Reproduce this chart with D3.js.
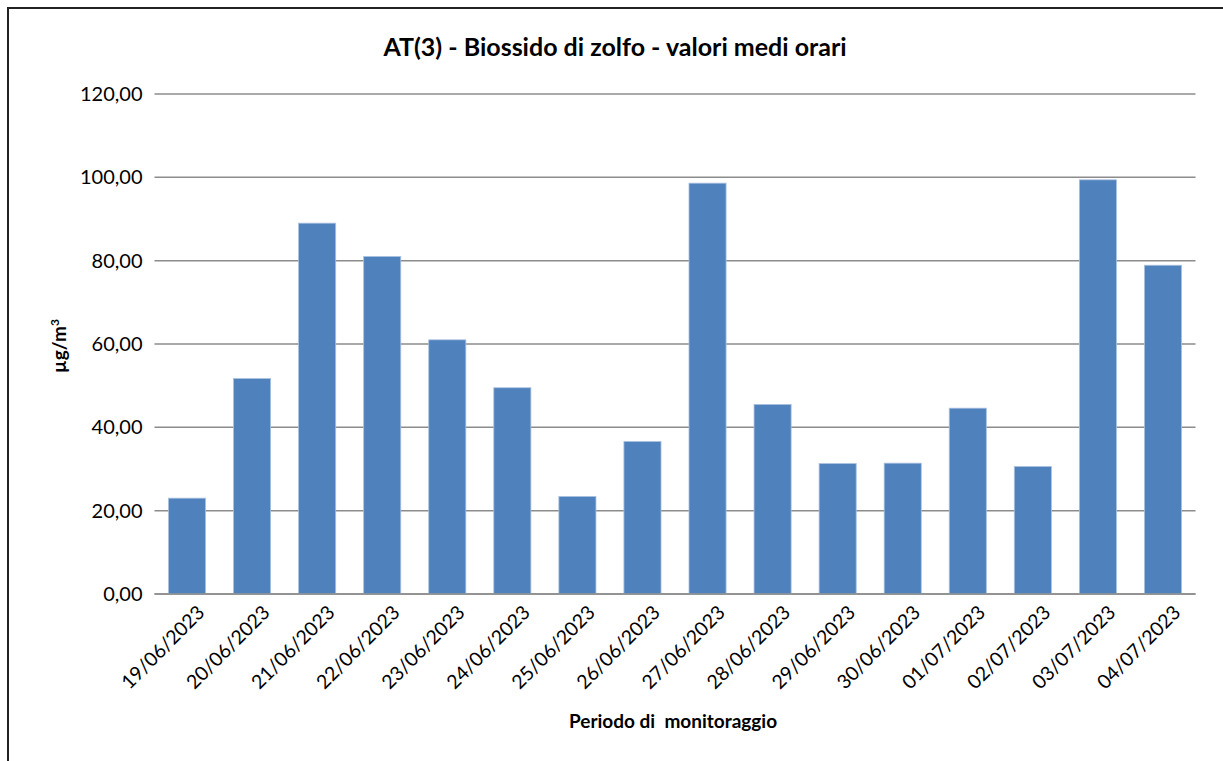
<!DOCTYPE html>
<html lang="it">
<head>
<meta charset="UTF-8">
<title>AT(3) - Biossido di zolfo</title>
<script src="https://d3js.org/d3.v7.min.js"></script>
<style>
  body { margin: 0; background: #fff; }
  text { font-family: Lato, "Open Sans", sans-serif; fill: #000; }
</style>
</head>
<body>
<div id="chart"></div>
<script>
// data
const dates = ["19/06/2023","20/06/2023","21/06/2023","22/06/2023","23/06/2023","24/06/2023",
               "25/06/2023","26/06/2023","27/06/2023","28/06/2023","29/06/2023","30/06/2023",
               "01/07/2023","02/07/2023","03/07/2023","04/07/2023"];
const values = [23.0, 51.7, 89.0, 81.0, 61.0, 49.5, 23.4, 36.6, 98.6, 45.5, 31.3, 31.4, 44.6, 30.6, 99.4, 78.9];
const yTicks = [0, 20, 40, 60, 80, 100, 120];

const W = 1223, H = 761;
const margin = {top: 94, right: 27.5, bottom: 167, left: 154.5};
const width = W - margin.left - margin.right,
      height = H - margin.top - margin.bottom;

const svg = d3.select("#chart").append("svg")
    .attr("width", W).attr("height", H);

// outer frame
svg.append("rect")
    .attr("x", 8).attr("y", 8)
    .attr("width", W).attr("height", H)
    .attr("fill", "none").attr("stroke", "#222").attr("stroke-width", 2);

const g = svg.append("g").attr("transform", `translate(${margin.left},${margin.top})`);

const x = d3.scaleBand().domain(dates).range([0, width]).paddingInner(0.43).paddingOuter(0.215);
const y = d3.scaleLinear().domain([0, 120]).range([height, 0]);

// gridlines
g.selectAll(".grid")
  .data(yTicks)
  .join("line")
    .attr("x1", 0).attr("x2", width)
    .attr("y1", d => y(d)).attr("y2", d => y(d))
    .attr("stroke", "#8c8c8c").attr("stroke-width", 1.5);

// y tick labels
const fmt = d => d3.format(".2f")(d).replace(".", ",");
g.selectAll(".ylab")
  .data(yTicks)
  .join("text")
    .attr("x", -12).attr("y", d => y(d))
    .attr("dy", "0.35em")
    .attr("text-anchor", "end")
    .style("font-size", "20px")
    .text(fmt);

// bars
g.selectAll(".bar")
  .data(values)
  .join("rect")
    .attr("x", (d, i) => x(dates[i]))
    .attr("y", d => y(d))
    .attr("width", x.bandwidth())
    .attr("height", d => height - y(d))
    .attr("fill", "#4f81bd")
    .attr("stroke", "#a9c1e0").attr("stroke-width", 0.8);

// x axis line on top of bars
g.append("line")
    .attr("x1", 0).attr("x2", width)
    .attr("y1", height).attr("y2", height)
    .attr("stroke", "#8c8c8c").attr("stroke-width", 1.5);

// x labels rotated
g.selectAll(".xlab")
  .data(dates)
  .join("text")
    .attr("transform", d => `translate(${x(d) + x.bandwidth() / 2 + 14},${height + 15}) rotate(-45)`)
    .attr("text-anchor", "end")
    .attr("dy", "0.35em")
    .style("font-size", "19.5px")
    .text(d => d);

// title
svg.append("text")
    .attr("x", 615).attr("y", 56)
    .attr("text-anchor", "middle")
    .style("font-size", "25px").style("font-weight", "bold")
    .text("AT(3) - Biossido di zolfo - valori medi orari");

// axis titles
svg.append("text")
    .attr("x", 673).attr("y", 728)
    .attr("text-anchor", "middle")
    .style("font-size", "19px").style("font-weight", "bold")
    .attr("xml:space", "preserve")
    .text("Periodo di  monitoraggio");

const yt = svg.append("text")
    .attr("transform", "translate(66,346) rotate(-90)")
    .attr("text-anchor", "middle")
    .style("font-size", "19px").style("font-weight", "bold");
yt.append("tspan").text("µg/m");
yt.append("tspan").attr("dy", "-7").style("font-size", "12px").text("3");
</script>
</body>
</html>
